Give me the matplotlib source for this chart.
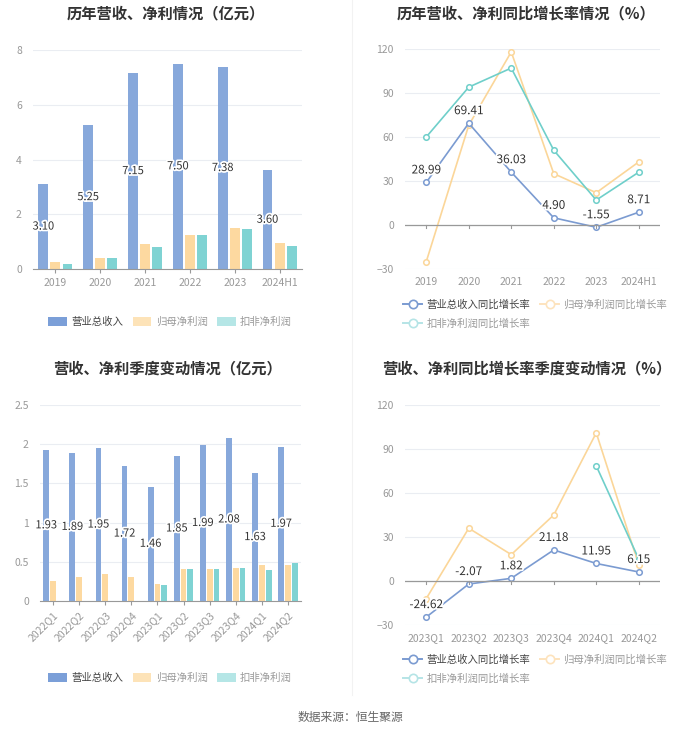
import matplotlib
matplotlib.use("Agg")
import matplotlib.pyplot as plt
import matplotlib.patheffects as pe
from matplotlib.lines import Line2D
from matplotlib.patches import Patch
import numpy as np

plt.rcParams['font.family'] = ['Noto Sans CJK SC', 'DejaVu Sans']

# ---- data ----
years = ["2019", "2020", "2021", "2022", "2023", "2024H1"]
rev_y = [3.10, 5.25, 7.15, 7.50, 7.38, 3.60]
np_y = [0.24, 0.41, 0.90, 1.23, 1.49, 0.94]
dnp_y = [0.20, 0.39, 0.81, 1.24, 1.46, 0.85]

rev_g = [28.99, 69.41, 36.03, 4.90, -1.55, 8.71]
np_g = [-25, 68, 118, 35, 22, 43]
dnp_g = [60, 94, 107, 51, 17, 36]

quarters = ["2022Q1", "2022Q2", "2022Q3", "2022Q4", "2023Q1",
            "2023Q2", "2023Q3", "2023Q4", "2024Q1", "2024Q2"]
rev_q = [1.93, 1.89, 1.95, 1.72, 1.46, 1.85, 1.99, 2.08, 1.63, 1.97]
np_q = [0.26, 0.30, 0.34, 0.30, 0.22, 0.41, 0.41, 0.42, 0.46, 0.46]
dnp_q = [None, None, None, None, 0.21, 0.41, 0.41, 0.42, 0.39, 0.48]

qg = ["2023Q1", "2023Q2", "2023Q3", "2023Q4", "2024Q1", "2024Q2"]
rev_qg = [-24.62, -2.07, 1.82, 21.18, 11.95, 6.15]
np_qg = [-12, 36, 18, 45, 101, 11]
dnp_qg = [None, None, None, None, 78.5, 15]

BLUE = "#87a8db"
ORANGE = "#fdd9a0"
TEAL = "#7fd3d3"
LBLUE = "#7b9bd1"
LORANGE = "#fbd699"
LTEAL = "#6fcfca"
GRID = "#eaedf2"
TICK = "#999999"

W, H = 700, 734
fig = plt.figure(figsize=(W / 100, H / 100), dpi=100)


def box(l, r, t, b):
    return [l / W, 1 - b / H, (r - l) / W, (b - t) / H]


def style(ax):
    for s in ax.spines.values():
        s.set_visible(False)
    ax.grid(axis="y", color=GRID, linewidth=0.8)
    ax.set_axisbelow(True)
    ax.tick_params(axis="y", length=0, colors=TICK, labelsize=7.5, pad=8)
    ax.tick_params(axis="x", colors=TICK, labelsize=7.5, length=3, color=TICK)


halo = [pe.withStroke(linewidth=2.5, foreground="white")]


def bar_panel(ax, cats, a, b, c, ylim, yticks, ylabels, rot=False):
    x = np.arange(len(cats))
    n = len(cats)
    off = 0.27 if n <= 6 else 0.26
    w = 0.22
    ax.bar(x - off, a, w, color=BLUE)
    ax.bar(x, b, w, color=ORANGE)
    cv = [np.nan if v is None else v for v in c]
    ax.bar(x + off, cv, w, color=TEAL)
    for xi, v in zip(x, a):
        ax.text(xi - off, v / 2, f"{v:.2f}", ha="center", va="center",
                fontsize=8, color="#333333", path_effects=halo)
    ax.set_xlim(-0.5, n - 0.5)
    ax.set_ylim(*ylim)
    ax.set_yticks(yticks)
    ax.set_yticklabels(ylabels)
    ax.set_xticks(x)
    style(ax)
    ax.spines["bottom"].set_visible(True)
    ax.spines["bottom"].set_color(TICK)
    if rot:
        ax.set_xticklabels(cats, rotation=45, ha="right", rotation_mode="anchor")
    else:
        ax.set_xticklabels(cats)


def line_panel(ax, cats, a, b, c):
    x = np.arange(len(cats))
    n = len(cats)
    mk = dict(marker="o", markersize=4, markerfacecolor="white", markeredgewidth=1.1)
    cv = [np.nan if v is None else v for v in c]
    ax.plot(x, b, color=LORANGE, lw=1.2, markeredgecolor=LORANGE, **mk)
    ax.plot(x, cv, color=LTEAL, lw=1.2, markeredgecolor=LTEAL, **mk)
    ax.plot(x, a, color=LBLUE, lw=1.2, markeredgecolor=LBLUE, **mk)
    for xi, v in zip(x, a):
        ax.annotate(f"{v:.2f}", (xi, v), xytext=(0, 9), textcoords="offset points",
                    ha="center", va="center", fontsize=8.5, color="#333333",
                    path_effects=halo)
    ax.set_xlim(-0.5, n - 0.5)
    ax.set_ylim(-30, 120)
    ax.set_yticks([-30, 0, 30, 60, 90, 120])
    style(ax)
    ax.axhline(0, color=TICK, lw=0.9)
    for xi in x:
        ax.plot([xi, xi], [0, -2], color=TICK, lw=0.8, clip_on=False)
    ax.set_xticks(x)
    ax.set_xticklabels(cats)
    ax.tick_params(axis="x", length=0, pad=6)


def bar_legend(y):
    handles = [Patch(facecolor="#7b9fd8", edgecolor="none"),
               Patch(facecolor="#fde3b8", edgecolor="none"),
               Patch(facecolor="#b5e6e6", edgecolor="none")]
    leg = fig.legend(handles, ["营业总收入", "归母净利润", "扣非净利润"],
                     loc="center", bbox_to_anchor=(170 / W, 1 - y / H), ncol=3,
                     frameon=False, fontsize=7.5, handlelength=1.8,
                     handleheight=1.0, columnspacing=0.9, handletextpad=0.4)
    for i, t in enumerate(leg.get_texts()):
        t.set_color("#444444" if i == 0 else "#9a9a9a")


def line_legend(y, x0):
    mk = dict(marker="o", markersize=6, markerfacecolor="white", markeredgewidth=1.2)
    handles = [Line2D([], [], color=LBLUE, lw=1.4, markeredgecolor=LBLUE, **mk),
               Line2D([], [], color="#b5e4e6", lw=1.4, markeredgecolor="#b5e4e6", **mk),
               Line2D([], [], color="#fde3bd", lw=1.4, markeredgecolor="#fde3bd", **mk)]
    leg = fig.legend(handles, ["营业总收入同比增长率", "扣非净利润同比增长率", "归母净利润同比增长率"],
                     loc="upper left", bbox_to_anchor=(x0 / W, 1 - y / H), ncol=2,
                     frameon=False, fontsize=7.5, handlelength=1.8,
                     columnspacing=1.0, handletextpad=0.4, labelspacing=0.8)
    for i, t in enumerate(leg.get_texts()):
        t.set_color("#444444" if i == 0 else "#9a9a9a")


ax1 = fig.add_axes(box(33, 302, 50, 269))
bar_panel(ax1, years, rev_y, np_y, dnp_y, (0, 8), [0, 2, 4, 6, 8],
          ["0", "2", "4", "6", "8"])
ax2 = fig.add_axes(box(405, 660, 49, 269))
line_panel(ax2, years, rev_g, np_g, dnp_g)
ax3 = fig.add_axes(box(40, 301, 405, 601))
bar_panel(ax3, quarters, rev_q, np_q, dnp_q, (0, 2.5), [0, 0.5, 1, 1.5, 2, 2.5],
          ["0", "0.5", "1", "1.5", "2", "2.5"], rot=True)
ax4 = fig.add_axes(box(405, 660, 405, 625))
line_panel(ax4, qg, rev_qg, np_qg, dnp_qg)

bar_legend(322)
bar_legend(678)
line_legend(290, 394)
line_legend(645, 394)

tk = dict(ha="center", va="center", fontsize=11, fontweight="bold", color="#333333")
fig.text(166 / W, 1 - 13 / H, "历年营收、净利情况（亿元）", **tk)
fig.text(526 / W, 1 - 13 / H, "历年营收、净利同比增长率情况（%）", **tk)
fig.text(167 / W, 1 - 368 / H, "营收、净利季度变动情况（亿元）", **tk)
fig.text(527 / W, 1 - 368 / H, "营收、净利同比增长率季度变动情况（%）", **tk)

fig.add_artist(Line2D([352 / W, 352 / W], [1 - 0 / H, 1 - 695 / H], color="#f2f2f2", lw=0.8))
fig.text(350 / W, 1 - 717 / H, "数据来源：恒生聚源", ha="center", va="center",
         fontsize=8.5, color="#666666")

fig.savefig("out.png", dpi=100, facecolor="white")
